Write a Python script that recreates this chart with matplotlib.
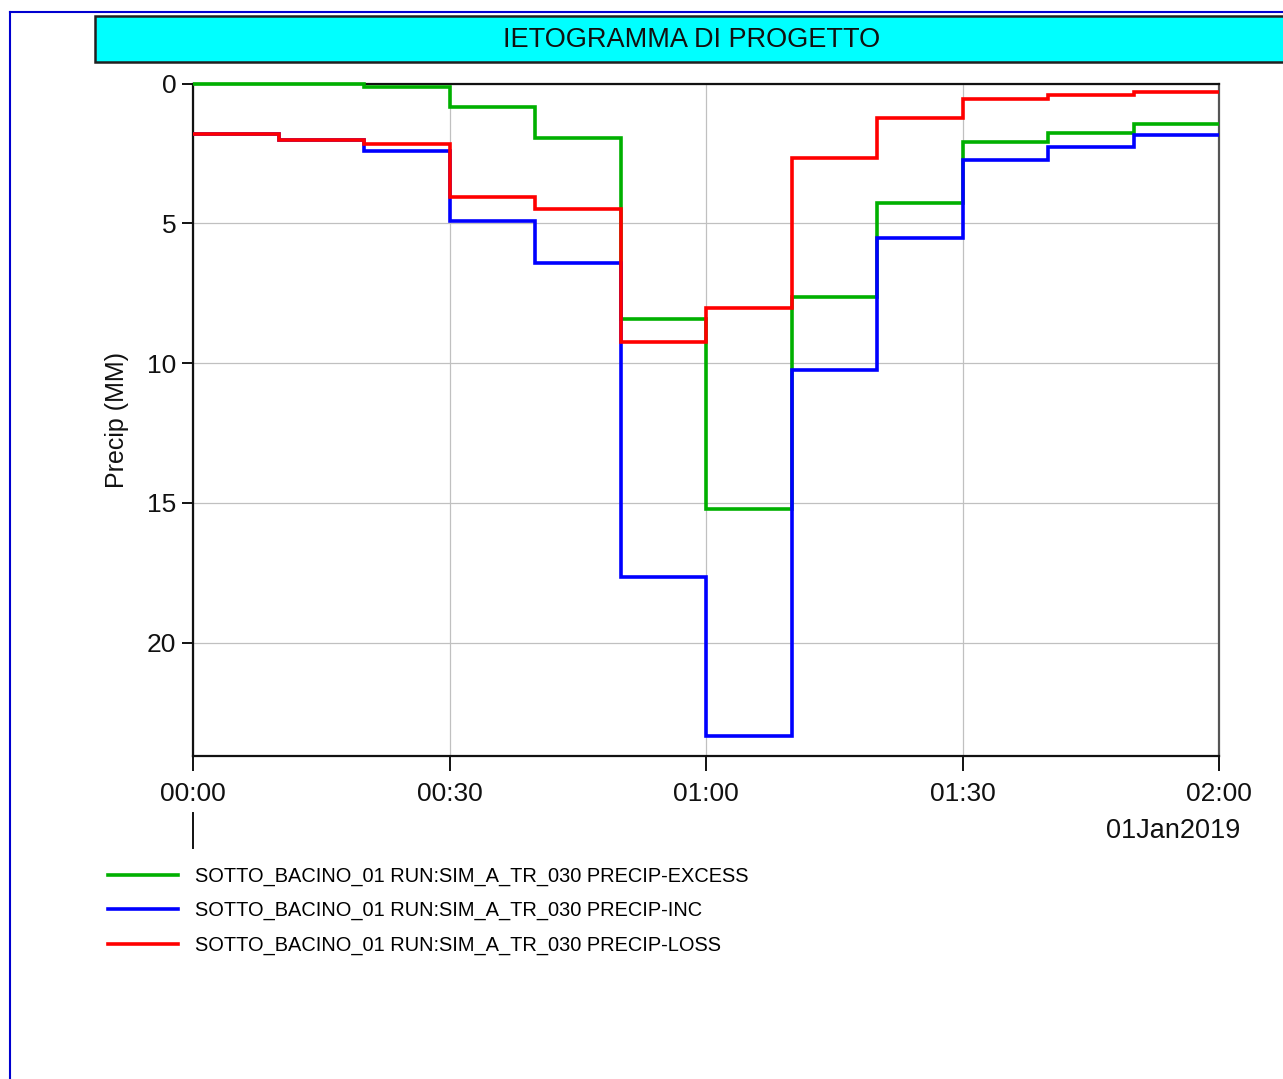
import matplotlib
matplotlib.use("Agg")
import matplotlib.pyplot as plt
from matplotlib.patches import Rectangle
from matplotlib.lines import Line2D

plt.rcParams['font.family'] = ['Liberation Sans', 'DejaVu Sans']

# time edges in minutes, 10 min steps
edges = [0, 10, 20, 30, 40, 50, 60, 70, 80, 90, 100, 110, 120]
excess = [0.0, 0.0, 0.14, 0.83, 1.96, 8.43, 15.23, 7.65, 4.29, 2.09, 1.78, 1.46]
inc = [1.81, 2.02, 2.42, 4.91, 6.43, 17.67, 23.33, 10.25, 5.52, 2.74, 2.26, 1.85]
loss = [1.81, 2.02, 2.16, 4.05, 4.50, 9.24, 8.04, 2.68, 1.25, 0.57, 0.41, 0.29]

xticks = [0, 30, 60, 90, 120]
xlabels = ["00:00", "00:30", "01:00", "01:30", "02:00"]
yticks = [0, 5, 10, 15, 20]
labels = ["SOTTO_BACINO_01 RUN:SIM_A_TR_030 PRECIP-EXCESS",
          "SOTTO_BACINO_01 RUN:SIM_A_TR_030 PRECIP-INC",
          "SOTTO_BACINO_01 RUN:SIM_A_TR_030 PRECIP-LOSS"]
colors = ["#00b000", "#0000ff", "#ff0000"]

W, H = 1283, 1079
fig = plt.figure(figsize=(W / 100, H / 100), dpi=100)

def fx(px):
    return px / W

def fy(py):
    return 1 - py / H

# outer frame (blue)
fig.add_artist(Line2D([fx(9.5), 1], [fy(11.5), fy(11.5)], color="#0000d0", lw=1.5))
fig.add_artist(Line2D([fx(9.5), fx(9.5)], [fy(11.5), 0], color="#0000d0", lw=1.5))

# title box
fig.add_artist(Rectangle((fx(95), fy(62)), 1 - fx(95) + 0.01, fy(16) - fy(62),
                         facecolor="#00ffff", edgecolor="#202020", lw=1.8,
                         transform=fig.transFigure))
fig.text(fx(692), fy(40), "IETOGRAMMA DI PROGETTO", ha="center", va="center",
         fontsize=19.5, color="#111111")

ax = fig.add_axes([fx(193), fy(756), fx(1219) - fx(193), fy(83.5) - fy(756)])

series = [excess, inc, loss]
for vals, c, lab in zip(series, colors, labels):
    ax.stairs(vals, edges, baseline=None, color=c, lw=2.6, label=lab,
              clip_on=False, zorder=3)

ax.set_xlim(0, 120)
ax.set_ylim(24.06, 0)
ax.set_xticks(xticks)
ax.set_xticklabels(xlabels)
ax.set_yticks(yticks)
ax.grid(True, color="#c0c0c0", lw=0.9)
ax.set_axisbelow(True)
for s in ax.spines.values():
    s.set_color("#111111")
    s.set_linewidth(1.6)
ax.spines["right"].set_color("#555555")
ax.tick_params(axis="x", length=11, width=1.4, pad=8, labelsize=19, colors="#111111")
ax.tick_params(axis="y", length=8, width=1.4, pad=4, labelsize=19, colors="#111111")
ax.set_ylabel("Precip (MM)", fontsize=18, color="#111111", labelpad=13)

# date stamp below axis
fig.text(fx(1240), fy(831), "01Jan2019", ha="right", va="center", fontsize=19.5, color="#111111")
fig.add_artist(Line2D([fx(193), fx(193)], [fy(813), fy(848)], color="#111111", lw=1.4))

handles, labs = ax.get_legend_handles_labels()
leg = fig.legend(handles, labs, loc="upper left", bbox_to_anchor=(fx(90), fy(849)),
                 frameon=False, fontsize=14.4, handlelength=3.5, handletextpad=0.85,
                 labelspacing=0.75)

fig.savefig("out.png", dpi=100)
